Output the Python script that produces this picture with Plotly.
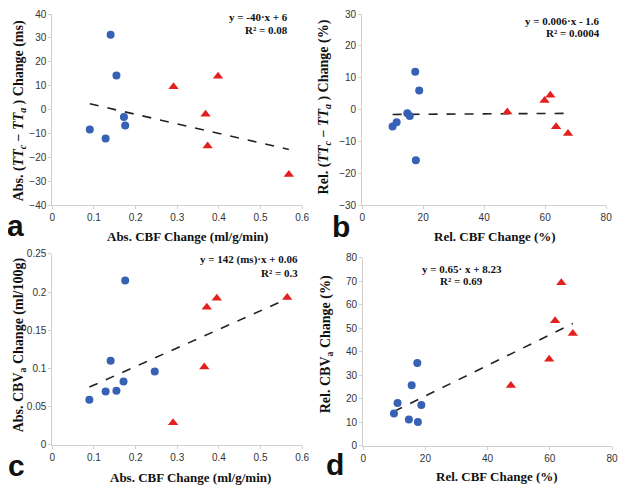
import plotly.graph_objects as go

# panel a: Abs. TT change vs Abs. CBF change
a_blue_x = [0.140, 0.154, 0.090, 0.128, 0.172, 0.175]
a_blue_y = [31.3, 14.2, -8.4, -12.1, -3.1, -6.7]
a_red_x = [0.291, 0.398, 0.368, 0.373, 0.568]
a_red_y = [9.5, 13.9, -2.0, -15.3, -27.2]
a_fit = (-40.0, 6.0)

# panel b: Rel. TT change vs Rel. CBF change
b_blue_x = [9.97, 11.3, 14.8, 15.6, 17.4, 18.7, 17.6]
b_blue_y = [-5.3, -4.0, -1.2, -2.0, 11.9, 6.0, -15.9]
b_red_x = [47.6, 59.8, 61.7, 63.6, 67.5]
b_red_y = [-0.8, 2.8, 4.5, -5.4, -7.5]
b_fit = (0.006, -1.6)

# panel c: Abs. CBVa change vs Abs. CBF change
c_blue_x = [0.089, 0.128, 0.140, 0.154, 0.171, 0.175, 0.246]
c_blue_y = [0.059, 0.070, 0.110, 0.071, 0.083, 0.215, 0.096]
c_red_x = [0.290, 0.365, 0.371, 0.395, 0.564]
c_red_y = [0.029, 0.102, 0.180, 0.192, 0.193]
c_fit = (0.243, 0.054)

# panel d: Rel. CBVa change vs Rel. CBF change
d_blue_x = [9.9, 11.05, 14.7, 15.6, 17.4, 17.6, 18.7]
d_blue_y = [13.8, 18.2, 11.2, 25.8, 35.2, 10.2, 17.4]
d_red_x = [47.5, 59.8, 61.7, 63.7, 67.4]
d_red_y = [25.7, 36.8, 53.2, 69.4, 47.8]
d_fit = (0.65, 8.23)

# the page body has an 8px margin, so the figure is made smaller and shifted
OFF = 8
W, H = 629 - 2 * OFF, 494 - 2 * OFF
BLUE = '#3761b5'
RED = '#e3201e'
SERIF = 'Liberation Serif'
SANS = 'Liberation Sans'


def px(x):
    return (x - OFF) / W


def py(y):
    return 1 - (y - OFF) / H


# plot areas in window pixels: (left, right, top, bottom)
boxes = {
    1: (50, 304, 8, 204),
    2: (365, 613, 8, 204),
    3: (50, 304, 254, 450),
    4: (366, 619, 258, 451),
}

panels = [
    (1, a_blue_x, a_blue_y, a_red_x, a_red_y, a_fit, [0, 0.6], 0.1, [-40, 40], 10),
    (2, b_blue_x, b_blue_y, b_red_x, b_red_y, b_fit, [0, 80], 20, [-30, 30], 10),
    (3, c_blue_x, c_blue_y, c_red_x, c_red_y, c_fit, [0, 0.6], 0.1, [0, 0.25], 0.05),
    (4, d_blue_x, d_blue_y, d_red_x, d_red_y, d_fit, [0, 80], 20, [0, 80], 10),
]

fig = go.Figure()
layout = {}

for i, bx, by, rx, ry, fit, xr, xd, yr, yd in panels:
    sfx = '' if i == 1 else str(i)
    xa, ya = 'x' + sfx, 'y' + sfx
    all_x = bx + rx
    x0, x1 = min(all_x), max(all_x)
    m, c = fit
    fig.add_trace(go.Scatter(x=[x0, x1], y=[m * x0 + c, m * x1 + c], mode='lines',
                             line=dict(color='#222', width=1.6, dash='dash'),
                             xaxis=xa, yaxis=ya, showlegend=False))
    fig.add_trace(go.Scatter(x=bx, y=by, mode='markers',
                             marker=dict(color=BLUE, size=8, symbol='circle'),
                             xaxis=xa, yaxis=ya, showlegend=False))
    fig.add_trace(go.Scatter(x=rx, y=ry, mode='markers',
                             marker=dict(color=RED, size=9, symbol='triangle-up'),
                             xaxis=xa, yaxis=ya, showlegend=False))

    l, r, t, b = boxes[i]
    common = dict(showgrid=False, zeroline=False, showline=True, linecolor='#cfcfcf',
                  linewidth=1, ticks='outside', ticklen=3, tickcolor='#cfcfcf',
                  tickfont=dict(family=SANS, size=10, color='#333'))
    layout['xaxis' + sfx] = dict(domain=[px(l), px(r)], range=xr, dtick=xd, tick0=0,
                                 anchor=ya, **common)
    layout['yaxis' + sfx] = dict(domain=[py(b), py(t)], range=yr, dtick=yd, tick0=0,
                                 anchor=xa, **common)

fig.update_layout(width=W, height=H, margin=dict(l=0, r=0, t=0, b=0),
                  plot_bgcolor='white', paper_bgcolor='white', **layout)


def note(text, x, y, size=12, family=SERIF, xanchor='center', angle=0):
    fig.add_annotation(text=f'<b>{text}</b>', x=px(x), y=py(y),
                       xref='paper', yref='paper', showarrow=False, textangle=angle,
                       xanchor=xanchor, yanchor='middle',
                       font=dict(family=family, size=size, color='#111'))


# x axis titles
note('Abs. CBF Change (ml/g/min)', 187, 236, size=13)
note('Rel. CBF Change (%)', 500, 236, size=13)
note('Abs. CBF Change (ml/g/min)', 190, 483, size=13)
note('Rel. CBF Change (%)', 502, 482, size=13)

# y axis titles
note('Abs. (<i>TT<sub>c</sub></i> − <i>TT<sub>a</sub></i> ) Change (ms)', 17, 107, size=14, angle=-90)
note('Rel. (<i>TT<sub>c</sub></i> − <i>TT<sub>a</sub></i> ) Change (%)', 327, 103, size=14, angle=-90)
note('Abs. CBV<sub>a</sub> Change (ml/100g)', 17, 347, size=14, angle=-90)
note('Rel. CBV<sub>a</sub> Change (%)', 329, 347, size=14, angle=-90)

# fit equations
note('y = -40·x + 6', 292, 11, size=11, xanchor='right')
note('R² = 0.08', 292, 24, size=11, xanchor='right')
note('y = 0.006·x - 1.6', 609, 15, size=11, xanchor='right')
note('R² = 0.0004', 609, 28, size=11, xanchor='right')
note('y = 142 (ms)·x + 0.06', 302, 260, size=11, xanchor='right')
note('R² = 0.3', 302, 274, size=11, xanchor='right')
note('y = 0.65· x + 8.23', 466, 270, size=11)
note('R² = 0.69', 466, 282, size=11)

# panel letters
note('a', 13, 225, size=30, family=SANS)
note('b', 343, 226, size=30, family=SANS)
note('c', 14, 471, size=30, family=SANS)
note('d', 337, 470, size=30, family=SANS)

fig.write_html("out.html")
